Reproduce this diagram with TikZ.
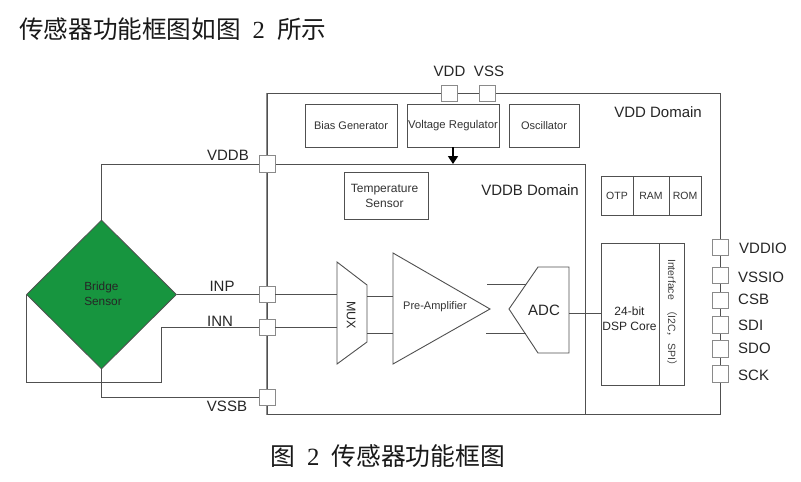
\documentclass[tikz,border=0pt]{standalone}
\usepackage{fontspec}
\setmainfont{Liberation Sans}
\newfontfamily\cjk{Noto Sans CJK SC}
\newfontfamily\serifn{Liberation Serif}
\usetikzlibrary{shapes.geometric,arrows.meta}
\definecolor{ln}{HTML}{505050}
\definecolor{padc}{HTML}{8A8A8A}
\definecolor{grn}{HTML}{17953F}
\newcommand\lowered[2]{\raisebox{-#1}{#2}}
\tikzset{
  x=1pt,y=-1pt,
  wire/.style={draw=ln,line width=0.9pt},
  dom/.style={draw=ln,line width=1pt},
  blk/.style={draw=ln,line width=0.9pt,fill=white,inner sep=0pt,align=center,font=\fontsize{11}{14}\selectfont,text=black!80},
  memtxt/.style={blk,minimum height=39pt,font=\fontsize{10.5}{13}\selectfont},
  padbox/.style={draw=padc,line width=0.9pt,fill=white,inner sep=0pt,minimum width=16pt,minimum height=16.5pt},
  lab/.style={inner sep=0pt,font=\fontsize{15}{17}\selectfont,text=black!85},
  labl/.style={lab,anchor=west},
}
\begin{document}
\begin{tikzpicture}
\useasboundingbox (0,0) rectangle (801,482);
\fill[white] (0,0) rectangle (801,482);
% texts outside
\node[inner sep=0pt,anchor=west,font=\fontsize{24.6}{26}\selectfont\cjk,text=black!90] (title) at (19,29) {传感器功能框图如图\hspace{12pt}{\serifn 2}\hspace{12.5pt}所示};
\node[inner sep=0pt,anchor=west,font=\fontsize{24.8}{26}\selectfont\cjk,text=black!90] (caption) at (270,456) {图\hspace{12pt}{\serifn 2}\hspace{12pt}传感器功能框图};
% domains
\node[dom,inner sep=0pt,minimum width=453pt,minimum height=321pt] (vdddom) at (493.5,253.5) {};
\node[dom,inner sep=0pt,minimum width=318.5pt,minimum height=250pt] (vddbdom) at (426.25,289) {};
\draw[draw=black!45,line width=1.3pt] (vdddom.north west) -- (vdddom.south west);
\node[lab,anchor=east] (vddl) at (702,112) {VDD Domain};
\node[lab,anchor=east] (vddbl) at (579,190) {VDDB Domain};
% top blocks
\node[blk,minimum width=92pt,minimum height=43pt] (bias) at (351,125.5) {\lowered{2pt}{Bias Generator}};
\node[blk,minimum width=92pt,minimum height=43pt,font=\fontsize{11.3}{14}\selectfont] (vreg) at (453,125.5) {\lowered{2pt}{Voltage Regulator}};
\node[blk,minimum width=70pt,minimum height=43pt] (osc) at (544,125.5) {\lowered{1.5pt}{Oscillator}};
\node[blk,minimum width=84pt,minimum height=47pt,font=\fontsize{12}{14.5}\selectfont] (temp) at (386,195.5) {};
\node[inner sep=0pt,align=center,font=\fontsize{12}{15}\selectfont,text=black!80] (tempt) at (384.5,196) {Temperature\\Sensor};
\coordinate (arrend) at (453,164);
\draw[draw=black,line width=1.7pt,-{Triangle[length=8pt,width=10pt]}] (vreg.south) -- (arrend);
% memory
\node[memtxt,minimum width=32pt] (otp) at (617,195.5) {\lowered{1.5pt}{OTP}};
\node[memtxt,minimum width=36pt] (ram) at (651,195.5) {\lowered{1.5pt}{RAM}};
\node[memtxt,minimum width=32pt] (rom) at (685,195.5) {\lowered{1.5pt}{ROM}};
% DSP
\node[blk,minimum width=58pt,minimum height=142pt] (dsp) at (630,314) {};
\node[inner sep=0pt,align=center,font=\fontsize{12}{15.5}\selectfont,text=black!85] (dspt) at (629.5,318.5) {24-bit\\DSP Core};
\node[blk,minimum width=25pt,minimum height=142pt] (ifc) at (671.5,314) {};
\node[inner sep=0pt,rotate=-90,font=\fontsize{10.5}{12}\selectfont,text=black!75] (ifct) at (672,315) {Interface\hspace{5pt}{\cjk （}I2C{\cjk ，}\hspace{1pt}SPI{\cjk ）}};
% diamond
\node[diamond,shape aspect=1,draw=ln,line width=0.8pt,fill=grn,inner sep=0pt,minimum width=150pt,minimum height=149pt] (bridge) at (101.5,294.5) {};
\node[inner sep=0pt,align=left,font=\fontsize{11.8}{14.5}\selectfont,text=black!85] (bridget) at (103,294) {Bridge\\Sensor};
% pads
\node[padbox] (pvdd) at (449.5,93.5) {};
\node[padbox] (pvss) at (487,93.5) {};
\node[padbox] (pvddb) at (267,164) {};
\node[padbox] (pinp) at (267,294.5) {};
\node[padbox] (pinn) at (267,327.5) {};
\node[padbox] (pvssb) at (267,397.5) {};
\node[padbox] (pio1) at (720.5,247.5) {};
\node[padbox] (pio2) at (720.5,275.5) {};
\node[padbox] (pio3) at (720.5,300.5) {};
\node[padbox] (pio4) at (720.5,325) {};
\node[padbox] (pio5) at (720.5,349) {};
\node[padbox] (pio6) at (720.5,374) {};
% pad labels
\node[lab] (lvdd) at (449.5,71) {VDD};
\node[lab] (lvss) at (489,71) {VSS};
\node[lab] (lvddb) at (228,155) {VDDB};
\node[lab] (linp) at (222,286) {INP};
\node[lab] (linn) at (220,321) {INN};
\node[lab] (lvssb) at (227,406) {VSSB};
\node[labl] (l1) at (739,248) {VDDIO};
\node[labl] (l2) at (738,277) {VSSIO};
\node[labl] (l3) at (738,299) {CSB};
\node[labl] (l4) at (738,325) {SDI};
\node[labl] (l5) at (738,348) {SDO};
\node[labl] (l6) at (738,375) {SCK};
% MUX
\draw[wire,fill=white] (337,262) coordinate (mtl) -- (367,285) coordinate (mtr) -- (367,342) coordinate (mbr) -- (337,364) coordinate (mbl) -- cycle;
\node[inner sep=0pt,rotate=-90,font=\fontsize{12.5}{14}\selectfont,text=black!85] (muxt) at (351,315) {MUX};
% amp
\draw[wire,fill=white] (393,253) coordinate (atl) -- (490,309) coordinate (atip) -- (393,364) coordinate (abl) -- cycle;
\node[inner sep=0pt,font=\fontsize{11}{13}\selectfont,text=black!80] (ampt) at (435,307) {Pre-Amplifier};
% ADC
\draw[wire,fill=white] (509,309) coordinate (ctip) -- (538,267) coordinate (ctl) -- (569,267) coordinate (ctr) -- (569,353) coordinate (cbr) -- (538,353) coordinate (cbl) -- cycle;
\node[inner sep=0pt,font=\fontsize{15}{17}\selectfont,text=black!85] (adct) at (544,310) {ADC};
% connectors
\coordinate (amuxa) at (337,294.5);
\coordinate (amuxb) at (337,327.5);
\draw[wire] (pinp.east) -- (amuxa);
\draw[wire] (pinn.east) -- (amuxb);
\coordinate (m1) at (367,296); \coordinate (a1) at (393,296);
\coordinate (m2) at (367,333); \coordinate (a2) at (393,333);
\draw[wire] (m1) -- (a1);
\draw[wire] (m2) -- (a2);
\coordinate (o1) at (487,284); \coordinate (c1) at (526,284);
\coordinate (o2) at (486,333); \coordinate (c2) at (526,333);
\draw[wire] (o1) -- (c1);
\draw[wire] (o2) -- (c2);
\coordinate (c3) at (569,313);
\draw[wire] (c3) -- (c3-|dsp.west);
\draw[wire] (bridge.north) -- (bridge.north|-pvddb.west) -- (pvddb.west);
\draw[wire] (bridge.east) -- (bridge.east-|pinp.west);
\coordinate (wa) at (161,327.5);
\coordinate (wb) at (161,382.5);
\draw[wire] (pinn.west) -- (wa) -- (wb) -- (wb-|bridge.west) -- (bridge.west);
\draw[wire] (bridge.south) -- (bridge.south|-pvssb.west) -- (pvssb.west);
\end{tikzpicture}
\end{document}
